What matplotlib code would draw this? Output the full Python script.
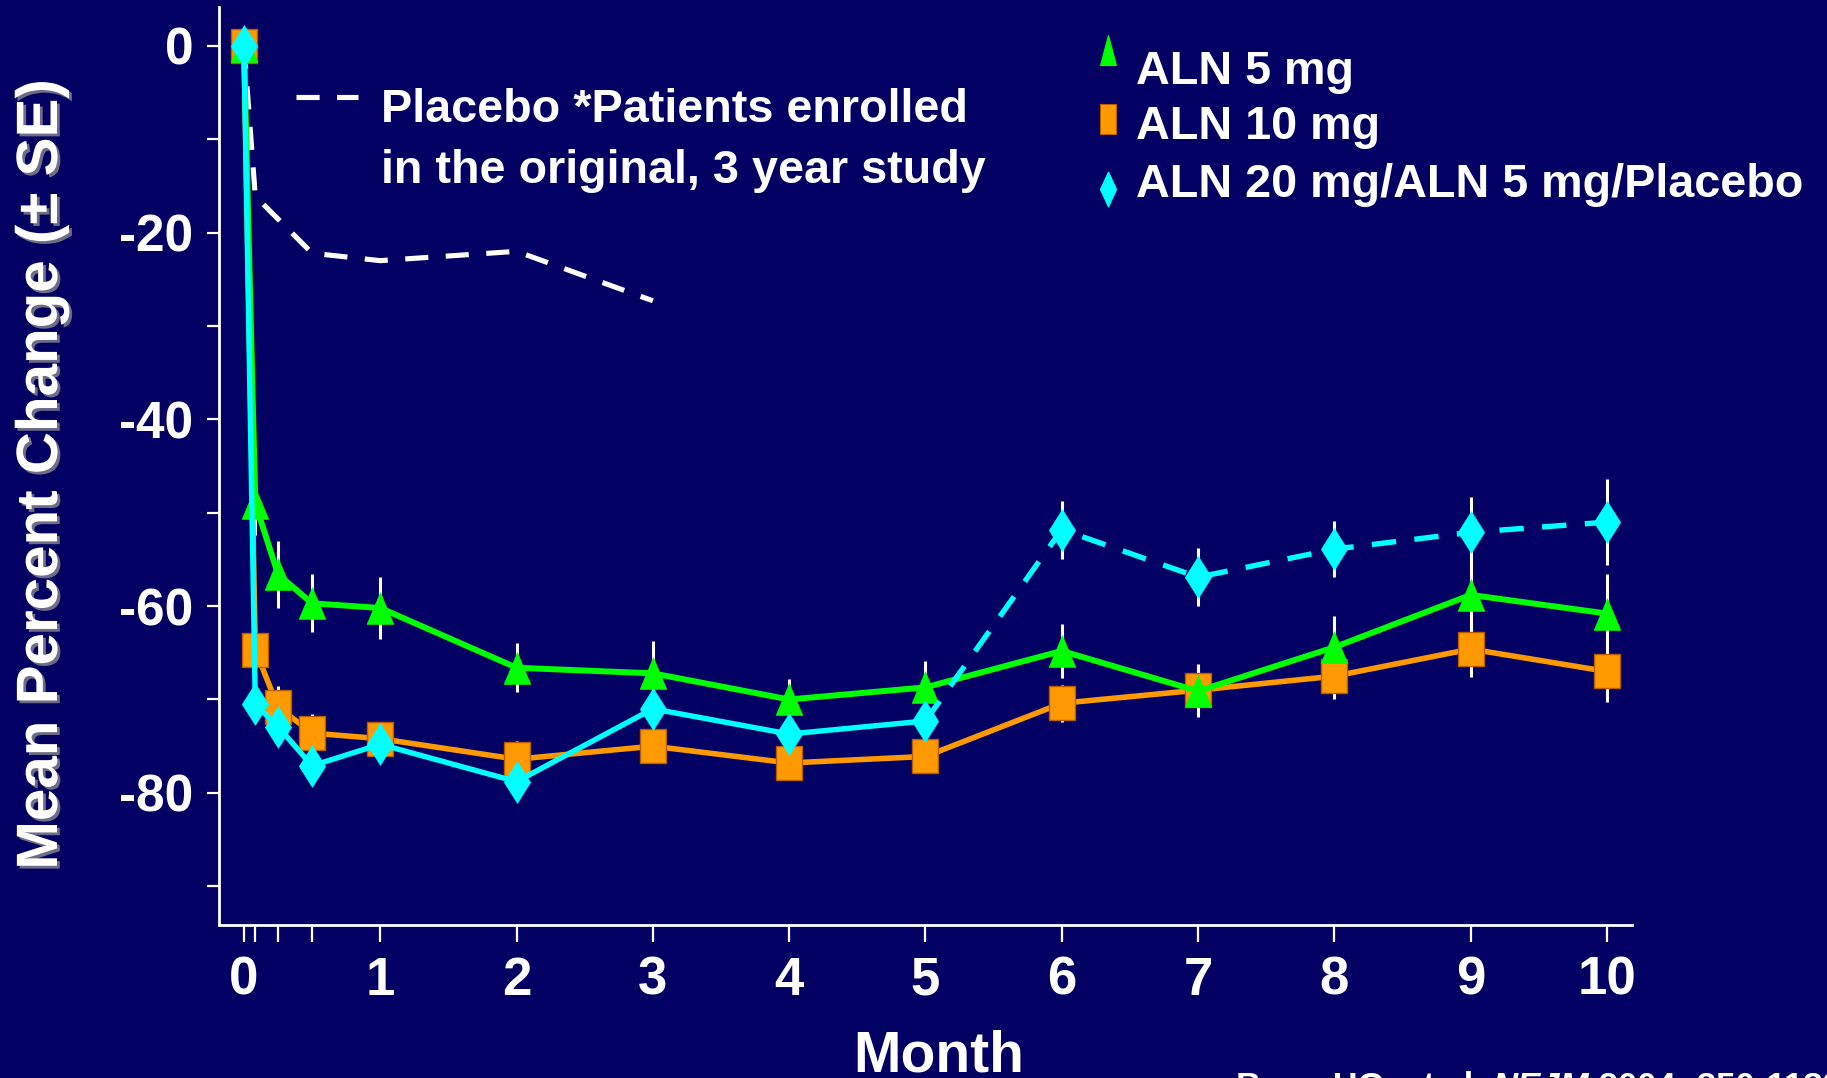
import matplotlib
matplotlib.use('Agg')
import matplotlib.pyplot as plt
from matplotlib.lines import Line2D
from matplotlib import patheffects, font_manager

W, H = 1827, 1078
BG = '#020062'

# ---------------- data ----------------
months = [0, 1/12, 0.25, 0.5, 1, 2, 3, 4, 5, 6, 7, 8, 9, 10]
aln5 = [0, -49.0, -56.6, -59.7, -60.2, -66.6, -67.2, -70.0, -68.7, -64.8, -69.1, -64.4, -58.8, -60.8]
aln5_se = [0, 3.4, 3.6, 3.1, 3.3, 2.6, 3.5, 2.2, 2.8, 2.9, 2.8, 3.3, 4.1, 4.2]
aln10 = [0, -64.7, -70.8, -73.6, -74.2, -76.4, -75.0, -76.8, -76.1, -70.4, -69.0, -67.5, -64.6, -67.0]
aln10_se = [0, 1.5, 2.2, 2.0, 1.6, 2.0, 1.6, 1.6, 1.6, 2.0, 2.8, 2.5, 3.0, 3.3]
aln20 = [0, -70.5, -72.9, -77.1, -74.8, -78.8, -71.0, -73.7, -72.3, -51.8, -56.9, -53.9, -52.1, -51.0]
aln20_se = [0, 1.5, 1.5, 1.5, 1.5, 1.5, 1.5, 1.5, 1.5, 3.1, 3.1, 3.0, 3.8, 4.6]
switch_idx = 8  # dashed from month 5 onward
placebo_months = [0, 1/12, 0.5, 1, 2, 3]
placebo = [0, -16.1, -22.2, -23.0, -22.0, -27.3]

major_xticks = [0, 1, 2, 3, 4, 5, 6, 7, 8, 9, 10]
minor_xticks = [1/12, 0.25, 0.5]
major_yticks = [0, -20, -40, -60, -80]
minor_yticks = [-10, -30, -50, -70, -90]

labels = ['ALN 5 mg', 'ALN 10 mg', 'ALN 20 mg/ALN 5 mg/Placebo']
placebo_label = ['Placebo *Patients enrolled', 'in the original, 3 year study']

GREEN, ORANGE, CYAN = '#00ff00', '#ff9900', '#00ffff'

# ---------------- fonts ----------------
avail = {f.name for f in font_manager.fontManager.ttflist}
FONT = 'Liberation Sans' if 'Liberation Sans' in avail else 'DejaVu Sans'
plt.rcParams['font.family'] = [FONT, 'DejaVu Sans']
plt.rcParams['axes.unicode_minus'] = False
if 'Liberation Sans Narrow' in avail:
    YFONT, YSIZE = 'Liberation Sans Narrow', 50
else:
    YFONT, YSIZE = FONT, 42

# marker shapes (stretched vertically like the original)
tri = [(0, 1), (-0.84, -1), (0.84, -1), (0, 1)]
rect = [(-0.75, -1), (0.75, -1), (0.75, 1), (-0.75, 1), (-0.75, -1)]
diam = [(0, 1), (0.63, 0), (0, -1), (-0.63, 0), (0, 1)]
tri_l = [(0, 1), (-0.53, -1), (0.53, -1), (0, 1)]
rect_l = [(-0.53, -1), (0.53, -1), (0.53, 1), (-0.53, 1), (-0.53, -1)]
diam_l = [(0, 1), (0.46, 0), (0, -1), (-0.46, 0), (0, 1)]

def fx(x):
    return x / W

def fy(y):
    return 1 - y / H

fig = plt.figure(figsize=(W / 100, H / 100), dpi=100, facecolor=BG)
ax = fig.add_axes([219 / W, 1 - 924.5 / H, 1412.7 / W, 917.8 / H])
ax.set_facecolor(BG)

# error bars
for vals, se in [(aln10, aln10_se), (aln5, aln5_se), (aln20, aln20_se)]:
    ax.errorbar(months, vals, yerr=se, fmt='none', ecolor='white',
                elinewidth=2.2, capsize=0, zorder=2)

dash = (4.5, 3.4)
# placebo
ax.plot(placebo_months, placebo, color='white', lw=3.7, ls=(0, dash), zorder=2.5)
# ALN 10
ax.plot(months, aln10, color=ORANGE, lw=4.0, zorder=3)
ax.plot(months, aln10, ls='none', marker=rect, ms=24.5, mfc=ORANGE,
        mec='#b85c00', mew=1.0, zorder=3.1)
# ALN 5
ax.plot(months, aln5, color=GREEN, lw=4.3, zorder=4)
ax.plot(months, aln5, ls='none', marker=tri, ms=22.8, mfc=GREEN,
        mec=GREEN, mew=0.5, zorder=4.1)
# ALN 20 / 5 / placebo
ax.plot(months[:switch_idx + 1], aln20[:switch_idx + 1], color=CYAN, lw=3.9, zorder=5)
ax.plot(months[switch_idx:], aln20[switch_idx:], color=CYAN, lw=3.9,
        ls=(0, dash), zorder=5)
ax.plot(months, aln20, ls='none', marker=diam, ms=30, mfc=CYAN,
        mec=CYAN, mew=0.5, zorder=5.1)

# axes styling
ax.set_xlim(-0.183, 10.181)
ax.set_ylim(-94.1, 4.2)
for s in ['top', 'right']:
    ax.spines[s].set_visible(False)
for s in ['left', 'bottom']:
    ax.spines[s].set_color('white')
    ax.spines[s].set_linewidth(2.0)

ax.set_xticks(major_xticks)
ax.set_xticks(minor_xticks, minor=True)
ax.set_xticklabels([str(t) for t in major_xticks])
ax.set_yticks(major_yticks)
ax.set_yticks(minor_yticks, minor=True)
ax.set_yticklabels([str(t) for t in major_yticks])
ax.tick_params(axis='x', which='both', length=12.5, width=1.6, color='white',
               direction='out', pad=10)
ax.tick_params(axis='y', which='both', length=8.6, width=1.6, color='white',
               direction='out', pad=10)
for lab in ax.get_xticklabels():
    lab.set_fontsize(38)
    lab.set_fontweight('bold')
    lab.set_color('white')
for lab in ax.get_yticklabels():
    lab.set_fontsize(37)
    lab.set_fontweight('bold')
    lab.set_color('white')

ax.set_xlabel('Month', fontsize=41, fontweight='bold', color='white', va='baseline')
ax.xaxis.set_label_coords((939 - 219) / 1412.7, (924.5 - 1072) / 917.8)
ax.set_ylabel('Mean Percent Change (\u00b1 SE)', fontsize=YSIZE, fontweight='bold',
              color='white', family=[YFONT, 'DejaVu Sans'], va='center', ha='center',
              path_effects=[patheffects.withSimplePatchShadow(offset=(2, -2),
                                                              shadow_rgbFace='#7a7a8a',
                                                              alpha=0.9)])
ax.yaxis.set_label_coords((42 - 219) / 1412.7, (924.5 - 474) / 917.8)

# ---------------- legends (manual, as in the slide) ----------------
LFS = 33.7
fig.add_artist(Line2D([fx(295.7), fx(357.7)], [fy(96.7), fy(96.7)], color='white',
                      lw=3.7, ls=(0, dash), transform=fig.transFigure))
fig.text(fx(381), fy(122), placebo_label[0], fontsize=LFS, fontweight='bold',
         color='white', va='baseline', ha='left')
fig.text(fx(381), fy(183), placebo_label[1], fontsize=LFS, fontweight='bold',
         color='white', va='baseline', ha='left')

leg_markers = [(tri_l, GREEN, GREEN, 50, 21.6), (rect_l, ORANGE, '#b85c00', 119, 21.6),
               (diam_l, CYAN, CYAN, 189, 25.2)]
baselines = [84, 139, 197]
for (m, fc, ec, yc, ms), lab, yb in zip(leg_markers, labels, baselines):
    fig.add_artist(Line2D([fx(1108)], [fy(yc)], ls='none', marker=m, ms=ms,
                          mfc=fc, mec=ec, mew=0.8, transform=fig.transFigure))
    fig.text(fx(1136), fy(yb), lab, fontsize=LFS, fontweight='bold', color='white',
             va='baseline', ha='left')

# ---------------- citation (cut off at the bottom edge, as on the slide) ----------------
renderer = fig.canvas.get_renderer()
x0 = fx(1236)
ybase = fy(1097)
parts = [('Bone HG, et al. ', 'normal'), ('NEJM', 'italic'), (' 2004; 350:1189-99', 'normal')]
for txt, style in parts:
    t = fig.text(x0, ybase, txt, fontsize=25, fontweight='bold', style=style,
                 color='white', va='baseline', ha='left')
    bb = t.get_window_extent(renderer=renderer)
    x0 = x0 + bb.width / W

fig.savefig('out.png', dpi=100, facecolor=BG)
